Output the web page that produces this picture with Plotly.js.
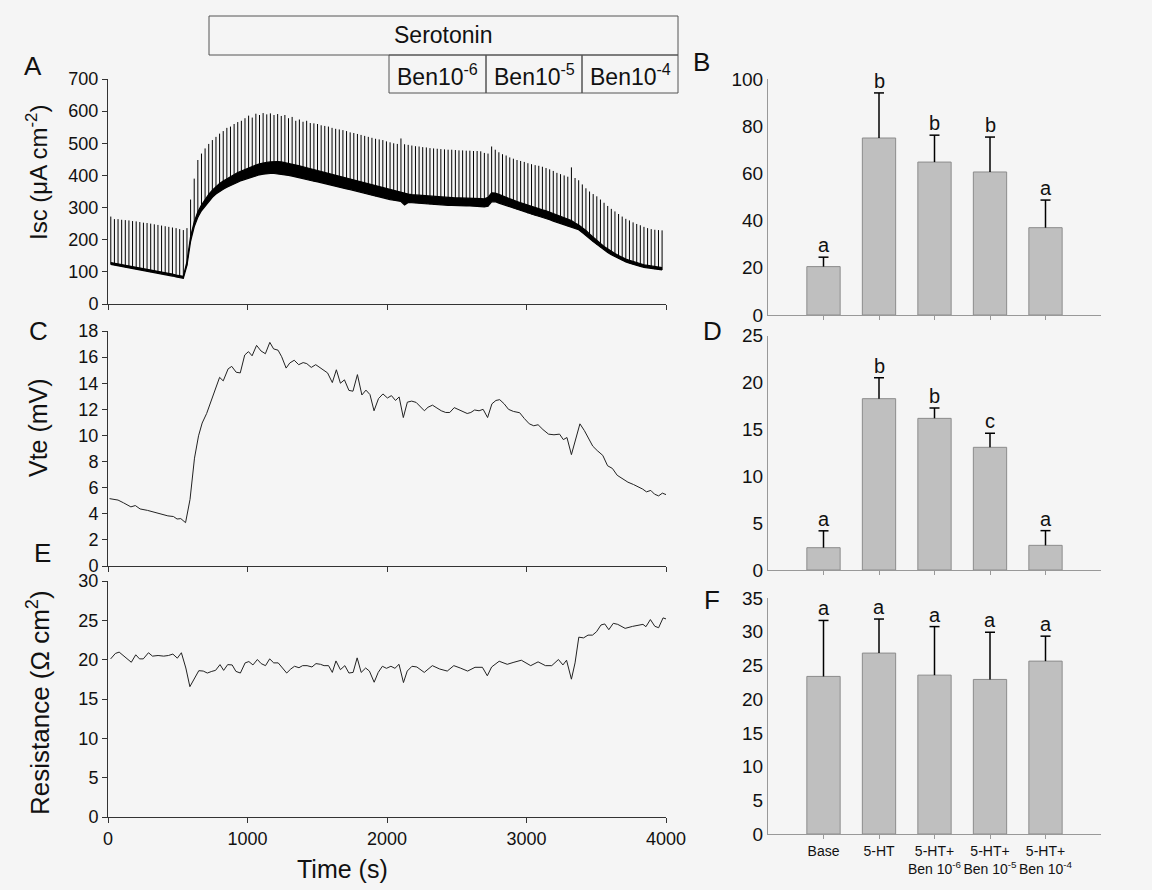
<!DOCTYPE html>
<html>
<head>
<meta charset="utf-8">
<script src="https://cdn.plot.ly/plotly-3.0.1.min.js"></script>
<style>html,body{margin:0;padding:0;background:#f5f5f5;}#chart{width:1152px;height:890px;}</style>
</head>
<body>
<div id="chart"></div>
<script>
// ---------- Panel A: Isc trace (sampled at each current pulse) ----------
const iscTime = [20,46,72,98,124,150,176,202,228,254,
280,306,332,358,384,410,436,462,488,514,
540,566,592,618,644,670,696,722,748,774,
800,826,852,878,904,930,956,982,1008,1034,
1060,1086,1112,1138,1164,1190,1216,1242,1268,1294,
1320,1346,1372,1398,1424,1450,1476,1502,1528,1554,
1580,1606,1632,1658,1684,1710,1736,1762,1788,1814,
1840,1866,1892,1918,1944,1970,1996,2022,2048,2074,
2100,2126,2152,2178,2204,2230,2256,2282,2308,2334,
2360,2386,2412,2438,2464,2490,2516,2542,2568,2594,
2620,2646,2672,2698,2724,2750,2776,2802,2828,2854,
2880,2906,2932,2958,2984,3010,3036,3062,3088,3114,
3140,3166,3192,3218,3244,3270,3296,3322,3348,3374,
3400,3426,3452,3478,3504,3530,3556,3582,3608,3634,
3660,3686,3712,3738,3764,3790,3816,3842,3868,3894,
3920,3946,3972];
const iscLow = [123,121,119,117,114,112,110,108,106,104,
102,99,97,95,93,91,89,87,84,82,
80,120,195,240,270,290,305,320,332,342,
350,357,363,369,374,379,384,388,392,396,
399,402,404,406,406,406,405,404,402,400,
398,395,393,390,388,385,382,380,377,375,
372,370,367,364,361,358,356,353,350,347,
344,341,338,335,333,330,327,325,323,321,
319,308,316,315,314,313,312,311,310,309,
309,308,308,307,307,306,306,306,305,305,
305,304,303,302,304,318,318,314,310,306,
302,298,294,290,286,282,279,276,273,270,
267,262,258,254,250,246,242,239,236,231,
222,214,204,194,185,176,168,160,153,147,
141,136,131,127,123,120,117,114,112,110,
108,107,106];
const iscHigh = [129,127,125,123,120,118,116,114,112,110,
108,105,103,101,99,97,95,93,90,88,
86,132,210,255,287,308,325,341,354,366,
375,383,390,397,403,409,414,419,424,428,
432,436,439,441,442,443,443,442,440,438,
435,432,430,427,424,421,418,416,413,410,
408,405,402,399,396,393,390,387,384,381,
377,374,371,367,364,361,358,355,352,349,
346,343,342,340,339,338,337,336,335,334,
333,332,332,331,331,330,330,330,329,329,
329,328,328,327,332,346,345,341,336,331,
327,323,319,315,311,307,303,300,297,293,
290,286,282,278,274,270,265,260,252,246,
237,229,218,207,197,188,179,171,163,157,
151,145,140,136,132,128,125,122,120,118,
116,114,113];
const iscPeak = [272,264,264,262,261,260,258,257,255,253,
252,250,248,246,244,242,240,238,236,233,
230,236,325,390,448,468,484,498,510,520,
530,538,548,552,560,566,570,578,586,580,
592,588,594,590,593,588,591,585,588,578,
582,570,574,567,570,563,562,560,556,554,
552,548,545,543,541,538,534,532,529,526,
523,520,517,514,512,510,506,503,500,498,
515,497,495,493,491,490,488,487,485,484,
483,482,481,480,480,479,478,478,477,477,
476,476,475,470,468,490,480,472,466,462,
456,452,448,445,442,438,435,432,430,427,
423,419,414,408,404,400,396,425,392,385,
372,360,350,342,335,325,315,305,296,288,
280,272,265,260,254,249,245,240,236,233,
231,230,229];

// ---------- Panel C: Vte ----------
const vteTime = [11,72,111,164,196,230,283,323,376,429,469,495,522,556,588,620,649,675,707,742,768,800,826,861,887,919,948,980,1007,1033,1065,1097,1128,1160,1187,1219,1245,1277,1303,1335,1367,1399,1425,1457,1489,1521,1550,1574,1608,1637,1666,1695,1727,1756,1788,1820,1849,1878,1907,1939,1971,2003,2032,2061,2087,2117,2146,2177,2209,2236,2268,2294,2326,2358,2389,2421,2450,2482,2511,2543,2575,2601,2628,2660,2689,2721,2752,2781,2808,2840,2871,2906,2951,2985,3020,3052,3083,3118,3158,3197,3237,3264,3290,3322,3351,3383,3415,3444,3475,3507,3547,3581,3616,3650,3687,3727,3767,3807,3833,3860,3891,3918,3947,3974,4000];
const vteValue = [5.16,5.05,4.84,4.53,4.63,4.37,4.26,4.13,4.00,3.84,3.79,3.60,3.63,3.32,5.10,8.26,9.97,10.95,11.68,12.74,13.40,14.45,14.18,15.10,15.29,14.84,14.79,16.16,16.42,16.10,16.90,16.47,16.26,17.13,16.63,16.53,16.03,15.16,15.55,15.76,15.42,15.58,15.50,15.21,15.42,15.16,14.92,14.79,14.05,15.03,14.00,14.26,13.45,13.39,14.66,13.10,13.47,13.13,11.89,12.82,13.18,12.87,13.05,12.68,12.95,11.37,12.55,12.63,12.53,12.26,11.89,12.16,12.32,12.10,11.89,11.76,11.76,12.13,12.00,11.87,11.68,11.76,11.95,11.89,12.00,11.37,12.42,12.68,12.74,12.42,12.00,11.84,11.74,11.29,10.89,10.74,10.82,10.45,10.10,10.05,10.10,9.68,9.84,8.53,9.71,10.89,10.37,9.76,9.18,8.84,8.47,7.68,7.47,6.95,6.68,6.42,6.24,6.05,5.89,5.68,5.79,5.50,5.37,5.58,5.47];

// ---------- Panel E: Resistance ----------
const resTime = [19,53,80,120,167,199,226,253,290,319,359,399,433,465,497,526,558,587,619,651,683,712,744,771,803,829,858,890,917,949,983,1010,1039,1071,1098,1129,1159,1188,1220,1249,1281,1310,1337,1369,1395,1427,1462,1491,1523,1549,1581,1608,1634,1666,1698,1727,1757,1786,1815,1847,1874,1908,1937,1967,1996,2028,2057,2086,2118,2145,2179,2214,2267,2325,2378,2432,2479,2525,2578,2631,2684,2719,2750,2804,2862,2910,2963,3030,3083,3136,3181,3229,3261,3287,3322,3348,3375,3409,3441,3473,3502,3534,3561,3590,3622,3654,3707,3760,3800,3835,3856,3888,3920,3947,3979,4000];
const resValue = [20.10,20.79,20.96,20.36,19.67,20.62,20.10,20.10,20.88,20.45,20.53,20.45,20.53,20.71,20.19,20.88,18.94,16.57,17.65,18.60,18.55,18.30,18.51,18.64,19.37,18.64,19.37,19.33,18.51,18.30,19.59,19.76,19.33,20.02,19.50,19.24,20.10,19.59,19.59,18.94,18.30,18.81,19.16,18.98,19.24,19.24,19.07,19.50,19.41,19.24,19.24,18.38,19.84,18.73,19.24,18.30,18.38,20.23,18.38,18.94,18.55,17.13,18.38,19.16,18.90,19.16,18.90,19.41,17.09,18.55,19.16,19.07,18.38,19.24,18.81,18.55,19.24,18.94,18.55,19.03,19.03,17.95,19.07,19.80,19.41,19.67,19.93,19.24,19.72,19.24,19.24,20.02,19.33,19.93,17.52,19.59,22.86,22.77,23.12,23.12,23.55,24.41,24.54,23.81,24.62,24.49,23.98,24.23,24.41,24.49,24.19,25.10,24.24,24.06,25.31,25.18];

const timeTicks = [0,1000,2000,3000,4000];

// ---------- Bar panels ----------
const groups = ['Base','5-HT','5-HT+<br>Ben 10<sup>-6</sup>','5-HT+<br>Ben 10<sup>-5</sup>','5-HT+<br>Ben 10<sup>-4</sup>'];
const iscMean = [20.5,75.0,64.8,60.6,37.0];
const iscErr  = [4.0,19.1,11.4,14.8,11.7];
const iscLetters = ['a','b','b','b','a'];
const vteMean = [2.38,18.28,16.18,13.09,2.63];
const vteErr  = [1.8,2.24,1.1,1.5,1.57];
const vteLetters = ['a','b','b','c','a'];
const resMean = [23.37,26.83,23.56,22.92,25.64];
const resErr  = [8.3,5.05,7.2,7.0,3.7];
const resLetters = ['a','a','a','a','a'];

// ---------- Layout helpers ----------
const W = 1152, H = 890;
const FONT = 'Liberation Sans, Arial, sans-serif';
const px = x => x / W;
const py = y => 1 - y / H;
const BG = '#f5f5f5';

const traces = [];

// Panel A band + spikes
traces.push({x: iscTime, y: iscLow, xaxis:'x', yaxis:'y', mode:'lines', line:{color:'#000', width:1.2}, hoverinfo:'skip'});
traces.push({x: iscTime, y: iscHigh, xaxis:'x', yaxis:'y', mode:'lines', line:{color:'#000', width:1.2}, fill:'tonexty', fillcolor:'#000', hoverinfo:'skip'});
const spX = [], spY = [];
iscTime.forEach((t, i) => { spX.push(t, t, null); spY.push(iscLow[i], iscPeak[i], null); });
traces.push({x: spX, y: spY, xaxis:'x', yaxis:'y', mode:'lines', line:{color:'#000', width:1}, hoverinfo:'skip'});

// Panel C, E lines
traces.push({x: vteTime, y: vteValue, xaxis:'x2', yaxis:'y2', mode:'lines', line:{color:'#222', width:1}});
traces.push({x: resTime, y: resValue, xaxis:'x3', yaxis:'y3', mode:'lines', line:{color:'#222', width:1}});

// Bar panels
const annotations = [];
function barPanel(mean, err, letters, xa, ya) {
  const pos = mean.map((_, i) => i + 1);
  traces.push({type:'bar', x: pos, y: mean, xaxis: xa, yaxis: ya, width: 0.6,
    marker:{color:'#bfbfbf', line:{color:'#8c8c8c', width:1}}});
  const ex = [], ey = [];
  pos.forEach((p, i) => {
    const top = mean[i] + err[i];
    ex.push(p, p, null, p - 0.09, p + 0.09, null);
    ey.push(mean[i], top, null, top, top, null);
  });
  traces.push({x: ex, y: ey, xaxis: xa, yaxis: ya, mode:'lines', line:{color:'#000', width:1.5}});
  pos.forEach((p, i) => {
    annotations.push({xref: xa, yref: ya, x: p, y: mean[i] + err[i], text: letters[i], showarrow:false,
      yanchor:'bottom', yshift: -1, font:{family:FONT, size:20, color:'#111'}});
  });
}
barPanel(iscMean, iscErr, iscLetters, 'x4', 'y4');
barPanel(vteMean, vteErr, vteLetters, 'x5', 'y5');
barPanel(resMean, resErr, resLetters, 'x6', 'y6');

// Axis styles
const leftX = (dom, yanchor, labels) => ({domain: dom, anchor: yanchor, range:[0,4000], tickvals: timeTicks,
  showticklabels: labels, showline:true, linecolor:'#333', linewidth:1, ticks:'outside', ticklen:5, tickcolor:'#333',
  showgrid:false, zeroline:false, tickangle:0, tickfont:{family:FONT, size:18, color:'#111'}});
const leftY = (dom, xanchor, range, dtick) => ({domain: dom, anchor: xanchor, range: range, dtick: dtick, tick0:0,
  showline:true, linecolor:'#333', linewidth:1, ticks:'outside', ticklen:5, tickcolor:'#333',
  showgrid:false, zeroline:false, tickfont:{family:FONT, size:18, color:'#111'}});
const rightX = (dom, yanchor, labels) => ({domain: dom, anchor: yanchor, range:[0,6], tickvals:[1,2,3,4,5],
  ticktext: groups, showticklabels: labels, showline:true, linecolor:'#999', linewidth:1, ticks:'outside', ticklen:4,
  tickcolor:'#999', showgrid:false, zeroline:false, tickangle:0, automargin:false,
  tickfont:{family:FONT, size:14, color:'#111'}});
const rightY = (dom, xanchor, range, dtick) => ({domain: dom, anchor: xanchor, range: range, dtick: dtick, tick0:0,
  showline:true, linecolor:'#999', linewidth:1, ticks:'', showgrid:false, zeroline:false,
  tickfont:{family:FONT, size:19, color:'#111'}});

const leftDom = [px(108), px(666)];
const rightDom = [px(768), px(1101)];

// Header boxes
const shapes = [
  {type:'rect', xref:'paper', yref:'paper', x0:px(209), x1:px(678), y0:py(55), y1:py(16), line:{color:'#555', width:1}},
  {type:'rect', xref:'paper', yref:'paper', x0:px(389), x1:px(486), y0:py(93), y1:py(55), line:{color:'#555', width:1}},
  {type:'rect', xref:'paper', yref:'paper', x0:px(486), x1:px(582), y0:py(93), y1:py(55), line:{color:'#555', width:1}},
  {type:'rect', xref:'paper', yref:'paper', x0:px(582), x1:px(678), y0:py(93), y1:py(55), line:{color:'#555', width:1}}
];
const txt = (x, y, text, size, extra) => Object.assign({xref:'paper', yref:'paper', x:px(x), y:py(y), text:text,
  showarrow:false, xanchor:'center', yanchor:'middle', font:{family:FONT, size:size, color:'#111'}}, extra || {});
annotations.push(
  txt(443, 35, 'Serotonin', 23),
  txt(437.5, 75, 'Ben10<sup>-6</sup>', 23),
  txt(534, 75, 'Ben10<sup>-5</sup>', 23),
  txt(630, 75, 'Ben10<sup>-4</sup>', 23),
  txt(33, 66, 'A', 26), txt(701, 62, 'B', 26),
  txt(38, 331, 'C', 26), txt(712, 331, 'D', 26),
  txt(42, 553, 'E', 26), txt(712, 600, 'F', 26),
  txt(37, 173, 'Isc (μA cm<sup>-2</sup>)', 24, {textangle:-90}),
  txt(38, 428, 'Vte (mV)', 25, {textangle:-90}),
  txt(38, 703, 'Resistance (Ω cm<sup>2</sup>)', 26, {textangle:-90}),
  txt(342, 869, 'Time (s)', 25)
);

const layout = {
  width: W, height: H, margin:{l:0, r:0, t:0, b:0},
  paper_bgcolor: BG, plot_bgcolor: BG, showlegend:false,
  font:{family:FONT, color:'#111'},
  xaxis: leftX(leftDom, 'y', false),
  yaxis: leftY([py(304), py(79)], 'x', [0,700], 100),
  xaxis2: leftX(leftDom, 'y2', false),
  yaxis2: leftY([py(566), py(331)], 'x2', [0,18], 2),
  xaxis3: leftX(leftDom, 'y3', true),
  yaxis3: leftY([py(817), py(581)], 'x3', [0,30], 5),
  xaxis4: rightX(rightDom, 'y4', false),
  yaxis4: rightY([py(315), py(79)], 'x4', [0,100], 20),
  xaxis5: rightX(rightDom, 'y5', false),
  yaxis5: rightY([py(570), py(335.7)], 'x5', [0,25], 5),
  xaxis6: rightX(rightDom, 'y6', true),
  yaxis6: rightY([py(834), py(598)], 'x6', [0,35], 5),
  shapes: shapes, annotations: annotations
};
Plotly.newPlot('chart', traces, layout, {staticPlot:true, displayModeBar:false});
</script>
</body>
</html>
